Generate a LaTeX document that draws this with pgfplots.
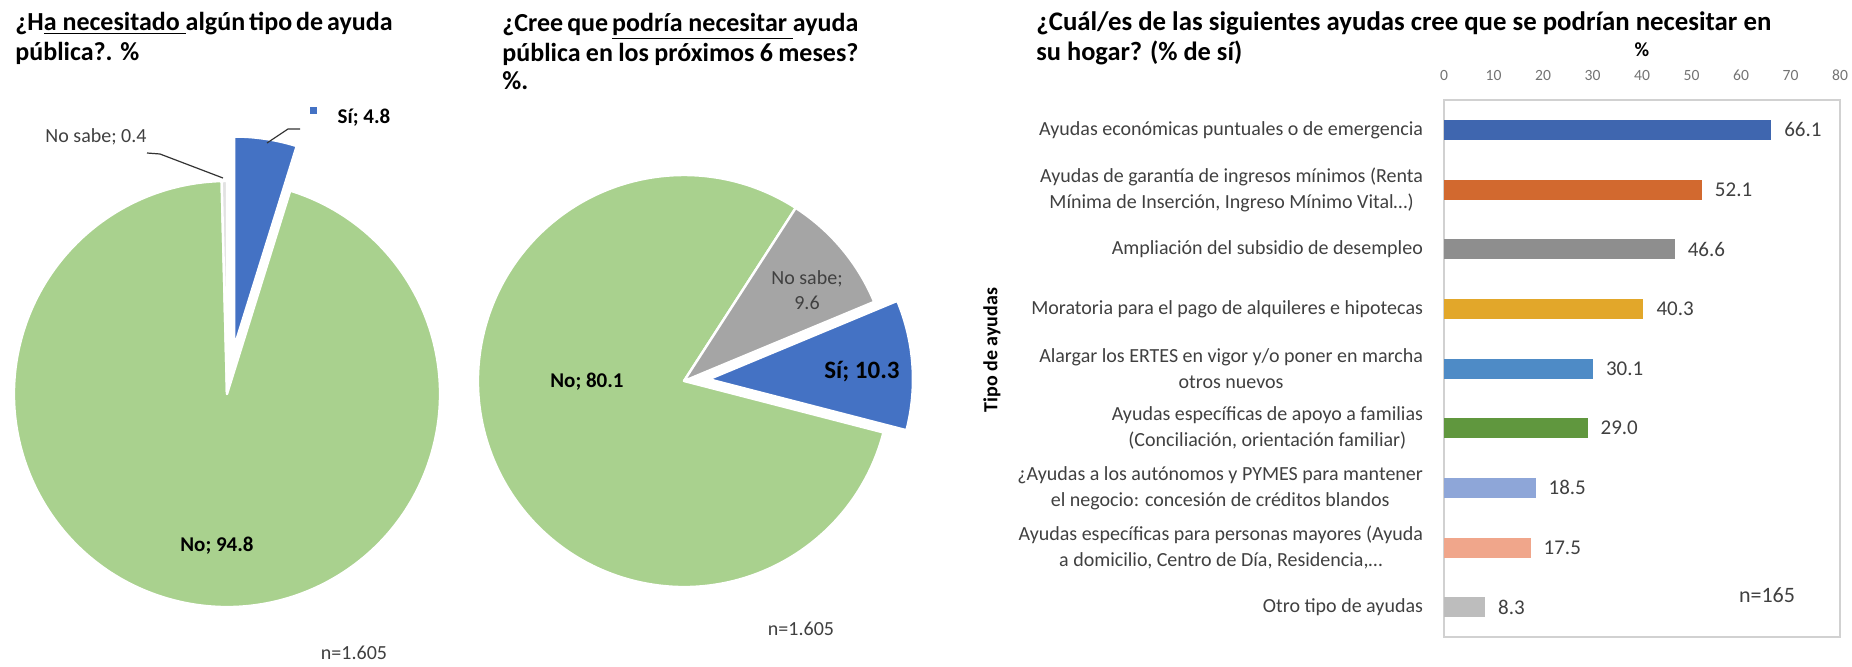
\documentclass[border=0pt]{standalone}
\usepackage{fontspec}
\setmainfont{Carlito}
\usepackage{pgfplots}
\pgfplotsset{compat=1.18}

\definecolor{pgreen}{HTML}{A9D18E}
\definecolor{pblue}{HTML}{4472C4}
\definecolor{pgray}{HTML}{A5A5A5}
\definecolor{pnosabe}{HTML}{E2E2E2}
\definecolor{c1}{HTML}{3F66AF}
\definecolor{c2}{HTML}{D2692F}
\definecolor{c3}{HTML}{8E8E8E}
\definecolor{c4}{HTML}{E2A72A}
\definecolor{c5}{HTML}{4E8BC6}
\definecolor{c6}{HTML}{60973E}
\definecolor{c7}{HTML}{8EA6D8}
\definecolor{c8}{HTML}{F0A68B}
\definecolor{c9}{HTML}{BDBDBD}
\definecolor{txt}{HTML}{404040}

% #1 rotation (deg, clockwise from top), #2 start %, #3 end %, #4 radius (px), #5 explode (px), #6 colour
\newcommand\pieslice[6]{%
 \pgfplotsextra{%
  \pgfmathsetmacro\sa{90-#1-3.6*#2}%
  \pgfmathsetmacro\ea{90-#1-3.6*#3}%
  \pgfmathsetmacro\ma{(\sa+\ea)/2}%
  \pgfmathsetmacro\ex{#5*cos(\ma)}%
  \pgfmathsetmacro\ey{#5*sin(\ma)}%
  \pgfmathsetmacro\rr{#4*0.5}%
  \filldraw[fill=#6, draw=white, line width=1.2pt, line join=round]
    (axis cs:\ex,\ey) -- +(\sa:\rr pt) arc[start angle=\sa, end angle=\ea, radius=\rr pt] -- cycle;
 }}

\newcommand\tfont{\bfseries\fontsize{13}{15}\selectfont}

\begin{document}
\begin{tikzpicture}[x=0.5pt,y=0.5pt]
\useasboundingbox (0,0) rectangle (1852,666);

% ---------- Titles ----------
\node[anchor=base west, inner sep=0, font=\tfont] at (15,636)
  {\makebox[188pt][s]{¿H\underline{a necesitado\ }algún tipo de ayuda}};
\node[anchor=base west, inner sep=0, font=\tfont] at (15,606) {pública?. \%};

\node[anchor=base west, inner sep=0, font=\tfont] at (502,634)
  {\makebox[178pt][s]{¿Cree que \underline{podría necesitar\ }ayuda}};
\node[anchor=base west, inner sep=0, font=\tfont] at (502,604)
  {\makebox[178pt][s]{pública en los próximos 6 meses?}};
\node[anchor=base west, inner sep=0, font=\tfont] at (502,577) {\%.};

\node[anchor=base west, inner sep=0, font=\bfseries\fontsize{13.4}{15}\selectfont] at (1036,636)
  {¿Cuál/es de las siguientes ayudas cree que se podrían necesitar en};
\node[anchor=base west, inner sep=0, font=\bfseries\fontsize{13.2}{15}\selectfont] at (1036,606) {su hogar? (\% de sí)};

% ---------- Pie 1 ----------
\begin{axis}[at={(113.5pt,136pt)}, anchor=center, hide axis, scale only axis,
  width=215pt, height=215pt, xmin=-215, xmax=215, ymin=-215, ymax=215, clip=false]
\pieslice{0}{4.8}{99.6}{213}{0}{pgreen}
\pieslice{0}{99.6}{100}{213}{0}{pnosabe}
\pieslice{0}{0}{4.8}{211}{47}{pblue}
\end{axis}
\node[font=\bfseries\fontsize{10.5}{12}\selectfont] at (364,548) {Sí; 4.8};
\fill[pblue] (310,552) rectangle (317,559);
\draw[black!80, line width=0.6pt] (267,523)--(288,537)--(300,537);
\node[font=\fontsize{10}{12}\selectfont, text=txt] at (96,529) {No sabe; 0.4};
\draw[black!80, line width=0.6pt] (147,513)--(160,512)--(223,488);
\node[font=\bfseries\fontsize{10.5}{12}\selectfont] at (217,120) {No; 94.8};
\node[font=\fontsize{10}{12}\selectfont, text=txt] at (354,13) {n=1.605};

% ---------- Pie 2 ----------
\begin{axis}[at={(342pt,142.5pt)}, anchor=center, hide axis, scale only axis,
  width=215pt, height=215pt, xmin=-215, xmax=215, ymin=-215, ymax=215, clip=false]
\pieslice{67.4}{10.3}{90.4}{206}{0}{pgreen}
\pieslice{67.4}{90.4}{100}{206}{0}{pgray}
\pieslice{67.4}{0}{10.3}{204}{25}{pblue}
\end{axis}
\node[font=\bfseries\fontsize{10.5}{12}\selectfont] at (587,284) {No; 80.1};
\node[font=\bfseries\fontsize{12.5}{14}\selectfont] at (862,294) {Sí; 10.3};
\node[font=\fontsize{10}{12.5}\selectfont, text=txt, align=center] at (807,376) {No sabe;\\9.6};
\node[font=\fontsize{10}{12}\selectfont, text=txt] at (801,37) {n=1.605};

% ---------- Bar chart ----------
\begin{axis}[at={(722pt,14.5pt)}, anchor=south west, scale only axis,
  width=198pt, height=268.5pt,
  xmin=0, xmax=80, ymin=-0.5, ymax=8.5, y dir=reverse,
  xbar, bar width=10pt, bar shift=0pt,
  xtick={0,10,20,30,40,50,60,70,80}, xticklabel pos=right,
  ytick={0,1,2,3,4,5,6,7,8},
  yticklabels={{Ayudas económicas puntuales o de emergencia},
    {Ayudas de garantía de ingresos mínimos (Renta\\Mínima de Inserción, Ingreso Mínimo Vital\ldots)},
    {Ampliación del subsidio de desempleo},
    {Moratoria para el pago de alquileres e hipotecas},
    {Alargar los ERTES en vigor y/o poner en marcha\\otros nuevos},
    {Ayudas específicas de apoyo a familias\\(Conciliación, orientación familiar)},
    {¿Ayudas a los autónomos y PYMES para mantener\\el negocio: concesión de créditos blandos},
    {Ayudas específicas para personas mayores (Ayuda\\a domicilio, Centro de Día, Residencia,\ldots},
    {Otro tipo de ayudas}},
  major tick length=0pt,
  axis line style={draw=black!18, line width=1.2pt},
  x tick label style={font=\fontsize{7.8}{9}\selectfont, text=black!55, yshift=6pt},
  y tick label style={font=\fontsize{10}{13}\selectfont, text=txt, align=center, xshift=-7pt},
  /pgf/number format/assume math mode=true,
  nodes near coords={\pgfmathprintnumber[fixed, fixed zerofill, precision=1]{\pgfplotspointmeta}},
  point meta=x,
  every node near coord/.append style={font=\fontsize{10.5}{12}\selectfont, text=txt, anchor=west, xshift=3pt},
  clip=false]
\addplot[fill=c1, draw=none] coordinates {(66.1,0)};
\addplot[fill=c2, draw=none] coordinates {(52.1,1)};
\addplot[fill=c3, draw=none] coordinates {(46.6,2)};
\addplot[fill=c4, draw=none] coordinates {(40.3,3)};
\addplot[fill=c5, draw=none] coordinates {(30.1,4)};
\addplot[fill=c6, draw=none] coordinates {(29.0,5)};
\addplot[fill=c7, draw=none] coordinates {(18.5,6)};
\addplot[fill=c8, draw=none] coordinates {(17.5,7)};
\addplot[fill=c9, draw=none] coordinates {(8.3,8)};
\end{axis}
\node[font=\bfseries\fontsize{10}{12}\selectfont] at (1642,616) {\%};
\node[font=\bfseries\fontsize{10}{12}\selectfont, rotate=90] at (992,316) {Tipo de ayudas};
\node[font=\fontsize{11}{12}\selectfont, text=txt] at (1767,71) {n=165};
\end{tikzpicture}
\end{document}
